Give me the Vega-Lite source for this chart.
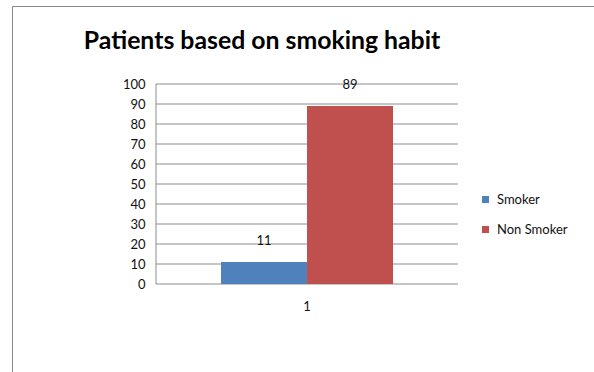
{
  "$schema": "https://vega.github.io/schema/vega-lite/v6.json",
  "width": 592,
  "height": 374,
  "autosize": {"type": "none"},
  "padding": {"left": 12, "top": 6, "right": 0, "bottom": 0},
  "background": "#ffffff",
  "title": {
    "text": "Patients based on smoking habit",
    "font": "Lato",
    "fontSize": 24.8,
    "fontWeight": "bold",
    "color": "#000000",
    "anchor": "middle",
    "baseline": "alphabetic",
    "dx": -46,
    "offset": -68
  },
  "config": {
    "font": "Lato",
    "view": {"stroke": "#888888", "strokeWidth": 1},
    "axis": {"labelOverlap": false}
  },
  "datasets": {
    "patients": [
      {"g": "1", "habit": "Smoker", "patients": 11},
      {"g": "1", "habit": "Non Smoker", "patients": 89}
    ],
    "grid": [
      {"g": "1", "level": 0},
      {"g": "1", "level": 10},
      {"g": "1", "level": 20},
      {"g": "1", "level": 30},
      {"g": "1", "level": 40},
      {"g": "1", "level": 50},
      {"g": "1", "level": 60},
      {"g": "1", "level": 70},
      {"g": "1", "level": 80},
      {"g": "1", "level": 90},
      {"g": "1", "level": 100}
    ]
  },
  "layer": [
    {
      "data": {"name": "grid"},
      "mark": {"type": "rule", "color": "#8c8c8c", "strokeWidth": 1},
      "encoding": {
        "x": {
          "field": "g",
          "type": "nominal",
          "bandPosition": 0,
          "scale": {"type": "band", "paddingInner": 0, "paddingOuter": 0.4801, "align": 0.4966},
          "axis": {"orient": "bottom", "offset": -96, "domain": false, "ticks": false, "grid": false, "labelAngle": 0, "labelPadding": 16, "labelFontSize": 13, "labelColor": "#111111", "title": null}
        },
        "x2": {"field": "g", "bandPosition": 1},
        "y": {
          "field": "level",
          "type": "quantitative",
          "scale": {"domain": [-48, 139], "nice": false, "zero": false},
          "axis": {"values": [0, 10, 20, 30, 40, 50, 60, 70, 80, 90, 100], "offset": -144, "domain": false, "ticks": false, "grid": false, "labelOverlap": false, "labelPadding": 11, "labelFontSize": 13, "labelColor": "#111111", "title": null}
        }
      }
    },
    {
      "data": {"values": [{"g": "1"}]},
      "mark": {"type": "rule", "color": "#8c8c8c", "strokeWidth": 1},
      "encoding": {
        "x": {
          "field": "g", "type": "nominal", "bandPosition": 0,
          "axis": {"orient": "bottom", "offset": -96, "domain": false, "ticks": false, "grid": false, "labelAngle": 0, "labelPadding": 16, "labelFontSize": 13, "labelColor": "#111111", "title": null}
        },
        "y": {
          "datum": 0, "type": "quantitative",
          "axis": {"values": [0, 10, 20, 30, 40, 50, 60, 70, 80, 90, 100], "offset": -144, "domain": false, "ticks": false, "grid": false, "labelOverlap": false, "labelPadding": 11, "labelFontSize": 13, "labelColor": "#111111", "title": null}
        },
        "y2": {"datum": 100}
      }
    },
    {
      "data": {"name": "patients"},
      "mark": {"type": "bar"},
      "encoding": {
        "x": {
          "field": "g", "type": "nominal",
          "axis": {"orient": "bottom", "offset": -96, "domain": false, "ticks": false, "grid": false, "labelAngle": 0, "labelPadding": 16, "labelFontSize": 13, "labelColor": "#111111", "title": null}
        },
        "xOffset": {
          "field": "habit",
          "type": "nominal",
          "sort": ["Smoker", "Non Smoker"],
          "scale": {"paddingInner": 0, "paddingOuter": 0.756}
        },
        "y": {
          "field": "patients", "type": "quantitative",
          "axis": {"values": [0, 10, 20, 30, 40, 50, 60, 70, 80, 90, 100], "offset": -144, "domain": false, "ticks": false, "grid": false, "labelOverlap": false, "labelPadding": 11, "labelFontSize": 13, "labelColor": "#111111", "title": null}
        },
        "y2": {"datum": 0},
        "color": {
          "field": "habit",
          "type": "nominal",
          "sort": ["Smoker", "Non Smoker"],
          "scale": {"domain": ["Smoker", "Non Smoker"], "range": ["#4f81bd", "#c0504d"]},
          "legend": {
            "orient": "none",
            "legendX": 467,
            "legendY": 187,
            "title": null,
            "symbolType": "square",
            "symbolSize": 49,
            "symbolStrokeWidth": 0,
            "labelFontSize": 13,
            "labelColor": "#111111",
            "rowPadding": 16,
            "labelOffset": 5
          }
        }
      }
    },
    {
      "data": {"name": "patients"},
      "mark": {"type": "text", "baseline": "alphabetic", "dy": -17, "fontSize": 13, "color": "#111111"},
      "encoding": {
        "x": {
          "field": "g", "type": "nominal",
          "axis": {"orient": "bottom", "offset": -96, "domain": false, "ticks": false, "grid": false, "labelAngle": 0, "labelPadding": 16, "labelFontSize": 13, "labelColor": "#111111", "title": null}
        },
        "xOffset": {
          "field": "habit",
          "type": "nominal",
          "sort": ["Smoker", "Non Smoker"],
          "scale": {"paddingInner": 0, "paddingOuter": 0.756}
        },
        "y": {
          "field": "patients", "type": "quantitative",
          "axis": {"values": [0, 10, 20, 30, 40, 50, 60, 70, 80, 90, 100], "offset": -144, "domain": false, "ticks": false, "grid": false, "labelOverlap": false, "labelPadding": 11, "labelFontSize": 13, "labelColor": "#111111", "title": null}
        },
        "text": {"field": "patients", "type": "quantitative"}
      }
    }
  ]
}
